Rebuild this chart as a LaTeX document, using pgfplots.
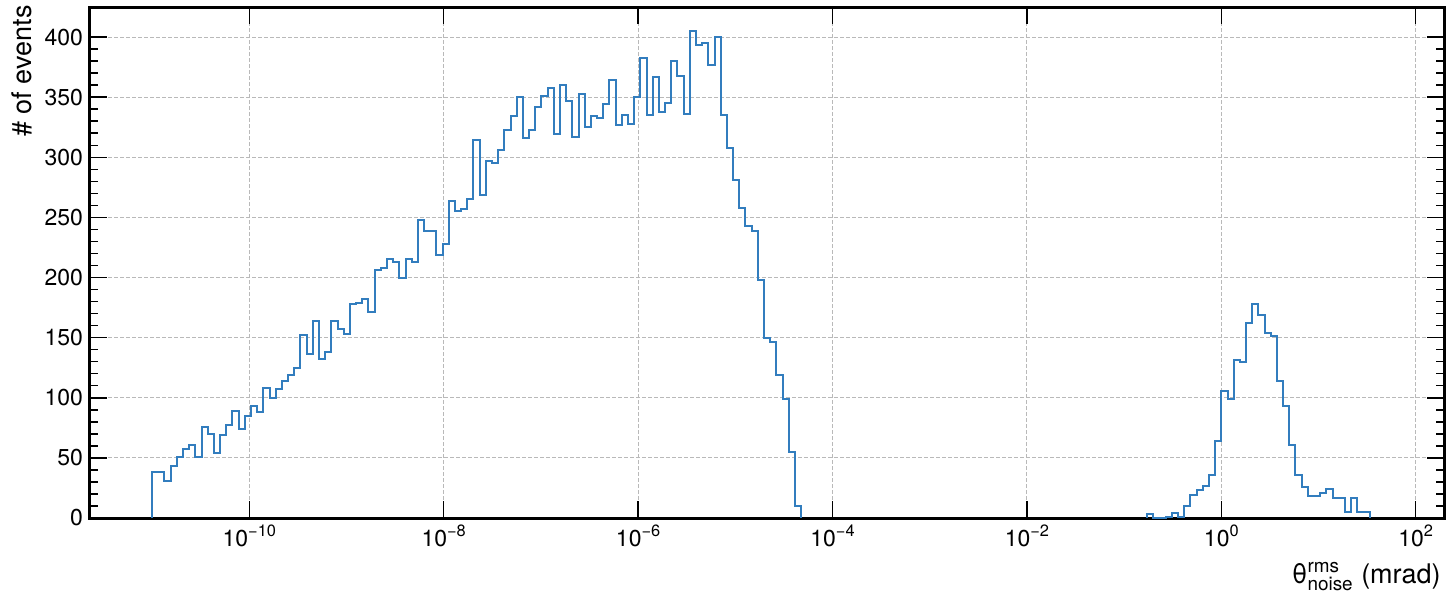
\documentclass[border=0pt]{standalone}
\usepackage{fontspec}
\setmainfont{TeX Gyre Heros}
\usepackage{amsmath}
\usepackage{pgfplots}
\pgfplotsset{compat=1.18}
\definecolor{histblue}{RGB}{50,125,190}
\definecolor{gridgray}{RGB}{185,185,185}
\newcommand{\tenpow}[1]{10\raisebox{0.42em}{\fontsize{8.2}{9}\selectfont #1}}

% bin left edges in log10(theta / mrad), counts
\pgfplotstableread{
x y
-11.000 0
-11.000 38
-10.936 38
-10.873 31
-10.809 43
-10.746 51
-10.682 57
-10.618 61
-10.555 51
-10.491 76
-10.428 70
-10.364 54
-10.301 69
-10.237 77
-10.173 89
-10.110 74
-10.046 85
-9.983 93
-9.919 88
-9.855 108
-9.792 100
-9.728 107
-9.665 114
-9.601 119
-9.538 125
-9.474 152
-9.410 136
-9.347 164
-9.283 132
-9.220 138
-9.156 164
-9.092 157
-9.029 153
-8.965 178
-8.902 179
-8.838 182
-8.775 171
-8.711 206
-8.647 208
-8.584 215
-8.520 213
-8.457 200
-8.393 215
-8.329 213
-8.266 248
-8.202 239
-8.139 239
-8.075 219
-8.012 228
-7.948 264
-7.884 255
-7.821 257
-7.757 265
-7.694 314
-7.630 269
-7.566 297
-7.503 295
-7.439 306
-7.376 323
-7.312 334
-7.249 350
-7.185 316
-7.121 323
-7.058 342
-6.994 351
-6.931 358
-6.867 319
-6.803 360
-6.740 347
-6.676 317
-6.613 353
-6.549 325
-6.486 334
-6.422 333
-6.358 344
-6.295 364
-6.231 327
-6.168 335
-6.104 328
-6.040 350
-5.977 383
-5.913 335
-5.850 367
-5.786 338
-5.723 345
-5.659 380
-5.595 368
-5.532 336
-5.468 405
-5.405 393
-5.341 395
-5.277 377
-5.214 400
-5.150 335
-5.087 308
-5.023 281
-4.960 258
-4.896 243
-4.832 239
-4.769 198
-4.705 150
-4.642 146
-4.578 119
-4.514 99
-4.451 55
-4.387 10
-4.324 0
}\lowpeak

\pgfplotstableread{
x y
-0.763 0
-0.763 3
-0.699 0
-0.636 0
-0.572 1
-0.509 4
-0.445 1
-0.381 10
-0.318 19
-0.254 23
-0.191 27
-0.127 36
-0.064 64
0.000 106
0.064 99
0.127 131
0.191 130
0.254 162
0.318 178
0.381 169
0.445 154
0.509 151
0.572 114
0.636 93
0.699 61
0.763 36
0.827 26
0.890 18
0.954 18
1.017 21
1.081 24
1.144 17
1.208 17
1.272 5
1.335 17
1.399 5
1.462 5
1.526 0
}\highpeak

\begin{document}
\begin{tikzpicture}
\begin{axis}[
  name=ax,
  scale only axis, width=677pt, height=255.5pt,
  xmin=-11.639, xmax=2.291, ymin=0, ymax=425,
  axis line style={line width=1.5pt, black},
  every tick/.style={black, line width=0.75pt},
  tick align=inside,
  xtick pos=both, ytick pos=both,
  major tick length=8.5pt, minor tick length=4.25pt,
  xtick={-10,-8,-6,-4,-2,0,2},
  xticklabels={\tenpow{−10},\tenpow{−8},\tenpow{−6},\tenpow{−4},\tenpow{−2},\tenpow{0},\tenpow{2}},
  minor x tick num=0,
  ytick={0,50,...,400}, minor y tick num=4,
  grid=major,
  major grid style={gridgray, line width=0.5pt, dash pattern=on 2pt off 1pt},
  /pgf/number format/assume math mode=true,
  ticklabel style={font=\fontsize{11.5}{13}\selectfont},
]
\addplot[const plot, histblue, line width=1pt, mark=none] table[x=x, y=y] {\lowpeak};
\addplot[const plot, histblue, line width=1pt, mark=none] table[x=x, y=y] {\highpeak};
\end{axis}
\node[rotate=90, anchor=base east, font=\fontsize{13.5}{16}\selectfont, inner sep=0pt]
  at ([xshift=-29pt, yshift=1pt]ax.north west) {\# of events};
\node[anchor=base east, font=\fontsize{13.5}{16}\selectfont, inner sep=0pt]
  at ([xshift=-1.5pt, yshift=-32.5pt]ax.south east) {θ$^{\text{rms}}_{\text{noise}}$ (mrad)};
\path ([xshift=-45pt, yshift=-37pt]ax.south west) rectangle ([xshift=1.5pt, yshift=3.5pt]ax.north east);
\end{tikzpicture}
\end{document}
